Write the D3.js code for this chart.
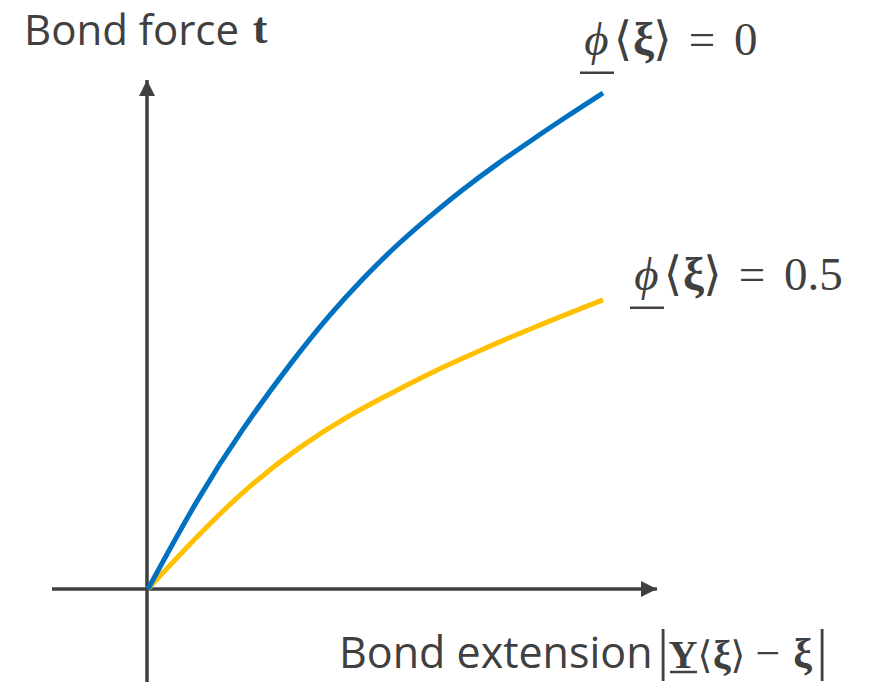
<!DOCTYPE html>
<html>
<head>
<meta charset="utf-8">
<script src="https://cdn.jsdelivr.net/npm/d3@7/dist/d3.min.js"></script>
<style>
  html, body { margin: 0; padding: 0; background: #fff; }
  svg { display: block; }
</style>
</head>
<body>
<svg id="chart" width="871" height="682"></svg>
<script>
// Bond extension (arbitrary units) and bond force for two damage levels
const extensionBlue = [0, 1.10, 2.07, 3.17, 4.00, 4.73, 5.47, 6.20, 6.92, 7.67, 8.40, 9.12, 10];
const forceBlue     = [0, 1.85, 3.23, 4.60, 5.54, 6.27, 6.94, 7.52, 8.06, 8.57, 9.03, 9.48, 10];
const extensionGold = [0, 1.14, 2.24, 3.34, 4.44, 5.10, 6.20, 7.30, 8.40, 10];
const forceGold     = [0, 1.13, 2.10, 2.88, 3.51, 3.83, 4.36, 4.81, 5.25, 5.83];
const seriesLabels  = ["0", "0.5"];

const svg = d3.select("#chart");
const ink = "#404040";
const sans = "'Open Sans', 'Noto Sans', sans-serif";
const serif = "'Liberation Serif', 'DejaVu Serif', serif";

const x = d3.scaleLinear().domain([0, 10]).range([148, 603]);
const y = d3.scaleLinear().domain([0, 10]).range([589, 93]);

// Axes with arrowheads
svg.append("defs").append("marker")
  .attr("id", "arrow")
  .attr("viewBox", "0 0 10 10")
  .attr("refX", 10).attr("refY", 5)
  .attr("markerUnits", "userSpaceOnUse")
  .attr("markerWidth", 16).attr("markerHeight", 16)
  .attr("orient", "auto")
  .append("path").attr("d", "M0,0 L10,5 L0,10 Z").attr("fill", ink);

svg.append("line")
  .attr("x1", 52).attr("y1", y(0)).attr("x2", 657).attr("y2", y(0))
  .attr("stroke", ink).attr("stroke-width", 3.5)
  .attr("marker-end", "url(#arrow)");
svg.append("line")
  .attr("x1", 147).attr("y1", 682).attr("x2", 147).attr("y2", 80)
  .attr("stroke", ink).attr("stroke-width", 3.5)
  .attr("marker-end", "url(#arrow)");

// Curves
const line = d3.line()
  .x(d => x(d[0])).y(d => y(d[1]))
  .curve(d3.curveBasis);

svg.append("path")
  .datum(d3.zip(extensionGold, forceGold))
  .attr("d", line).attr("fill", "none")
  .attr("stroke", "#FFC000").attr("stroke-width", 5);
svg.append("path")
  .datum(d3.zip(extensionBlue, forceBlue))
  .attr("d", line).attr("fill", "none")
  .attr("stroke", "#0070C0").attr("stroke-width", 5);

// One text element made of separately placed, separately styled chunks
function formula(yBase, parts) {
  const t = svg.append("text")
    .attr("y", yBase)
    .attr("fill", ink);
  parts.forEach(p => {
    t.append("tspan")
      .attr("x", p.x)
      .attr("y", yBase + (p.dy || 0))
      .attr("text-anchor", p.anchor || "middle")
      .attr("font-family", p.font || serif)
      .attr("font-size", p.size)
      .attr("font-weight", p.weight || "normal")
      .attr("font-style", p.style || "normal")
      .text(p.t);
  });
  return t;
}
function underline(x1, x2, yy) {
  svg.append("line")
    .attr("x1", x1).attr("x2", x2).attr("y1", yy).attr("y2", yy)
    .attr("stroke", ink).attr("stroke-width", 2.5);
}

// Y axis title
formula(45, [
  { t: "Bond force", x: 24, anchor: "start", font: sans, size: 42 },
  { t: "t", x: 260, weight: "bold", size: 44, dy: -2 }
]);

// X axis title
const xb = 668;
formula(xb, [
  { t: "Bond extension", x: 339, anchor: "start", font: sans, size: 43 },
  { t: "|", x: 663, size: 56, dy: 1 },
  { t: "Y", x: 683, weight: "bold", size: 40 },
  { t: "⟨", x: 705, size: 38 },
  { t: "ξ", x: 722, weight: "bold", size: 40 },
  { t: "⟩", x: 738, size: 38 },
  { t: "−", x: 768, size: 44 },
  { t: "ξ", x: 802.5, weight: "bold", size: 42 },
  { t: "|", x: 822, size: 56, dy: 1 }
]);
underline(670, 697, xb + 4);

// Curve labels
function phiLabel(x0, yBase, value) {
  const s = 47;
  formula(yBase, [
    { t: "ϕ", x: x0 + 16.5, style: "italic", size: s },
    { t: "⟨", x: x0 + 43, size: s },
    { t: "ξ", x: x0 + 63.5, weight: "bold", size: s },
    { t: "⟩", x: x0 + 82.5, size: s },
    { t: "=", x: x0 + 122, size: s },
    { t: value, x: x0 + 154, anchor: "start", size: s }
  ]);
  underline(x0, x0 + 34, yBase + 17.7);
}
phiLabel(580, 55, seriesLabels[0]);
phiLabel(630, 290, seriesLabels[1]);
</script>
</body>
</html>
